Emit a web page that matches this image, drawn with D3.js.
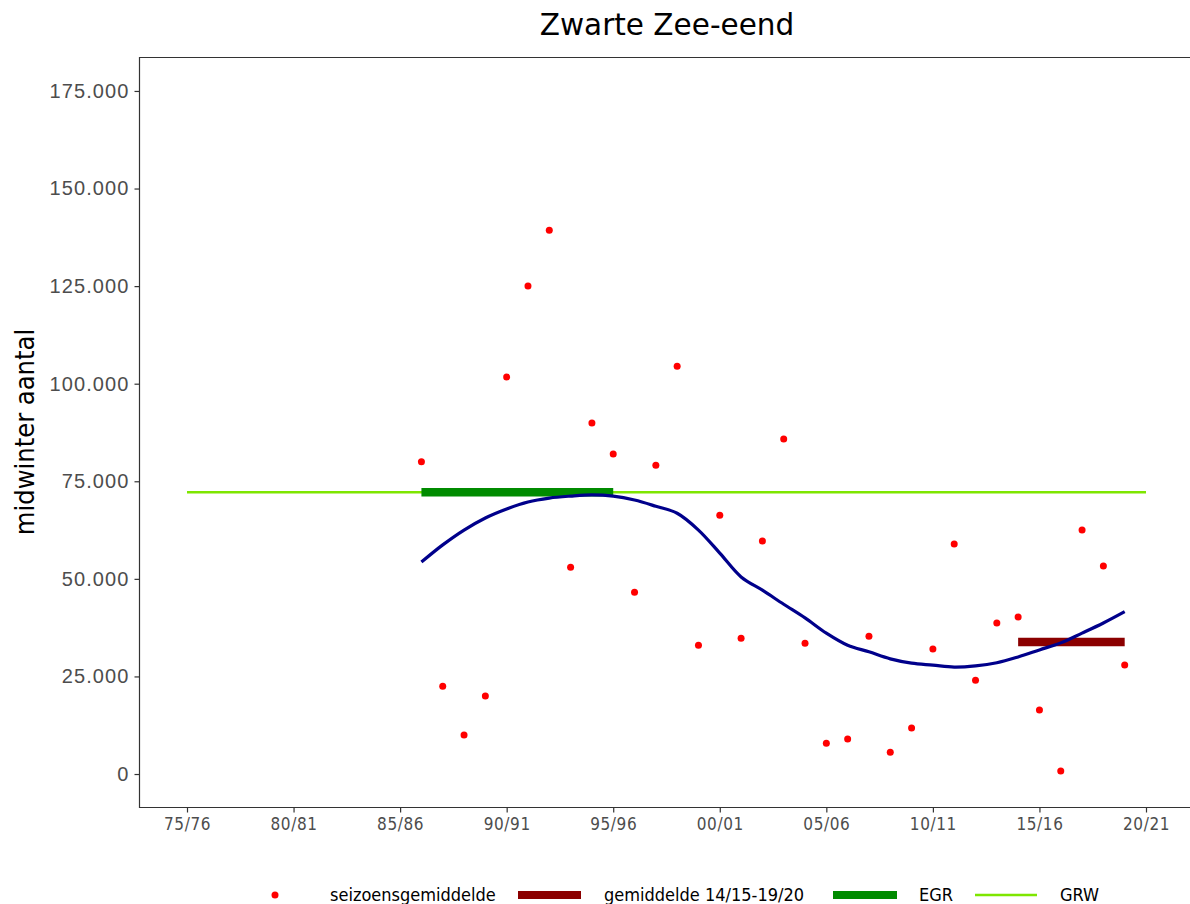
<!DOCTYPE html>
<html>
<head>
<meta charset="utf-8">
<script src="https://cdn.jsdelivr.net/npm/d3@7"></script>
<style>
  body { margin: 0; background: #fff; }
</style>
</head>
<body>
<div id="chart"></div>
<script>
// data: season start years + midwinter counts
var seasons = [1986, 1987, 1988, 1989, 1990, 1991, 1992, 1993, 1994, 1995, 1996, 1997, 1998, 1999, 2000, 2001, 2002,
  2003, 2004, 2005, 2006, 2007, 2008, 2009, 2010, 2011, 2012, 2013, 2014, 2015, 2016, 2017, 2018, 2019];
var counts = [80000, 22500, 10000, 20000, 101700, 125000, 139300, 53000, 89900, 82000, 46600, 79100, 104500, 33000,
  66300, 34800, 59700, 85800, 33500, 7900, 9000, 35300, 5600, 11800, 32000, 58900, 24000, 38700, 40200, 16400,
  800, 62500, 53300, 27900];
var trend = [54300, 58700, 62500, 65600, 67900, 69700, 70700, 71200, 71500, 71200, 70200, 68600, 66800, 62500,
  56600, 50500, 47100, 43500, 40000, 36100, 33000, 31300, 29500, 28400, 27900, 27400, 27700, 28500, 30000, 31800,
  33600, 36100, 38700, 41600];
var tickSeasons = [1975, 1980, 1985, 1990, 1995, 2000, 2005, 2010, 2015, 2020];
var yTicks = [0, 25000, 50000, 75000, 100000, 125000, 150000, 175000];
var grw = {from: 1975, to: 2020, value: 72200};
var egr = {from: 1986, to: 1995, value: 72200};
var recent = {from: 2014, to: 2019, value: 33800};

var W = 1190, H = 904;
var svg = d3.select("#chart").append("svg")
  .attr("width", W).attr("height", H);

var x = d3.scaleLinear().domain([1975, 2020]).range([187, 1146]);
var y = d3.scaleLinear().domain([-8450, 183700]).range([807, 57]);

var nl = d3.formatLocale({decimal: ",", thousands: ".", grouping: [3], currency: ["", ""]});
var fmt = nl.format(",d");
var seasonLabel = function(yr) {
  var a = yr % 100, b = (yr + 1) % 100;
  return d3.format("02d")(a) + "/" + d3.format("02d")(b);
};

// panel border (top, left, bottom; right runs off the page)
svg.append("path")
  .attr("d", "M" + (W + 5) + ",57.5 H139.5 V807.5 H" + (W + 5))
  .attr("fill", "none").attr("stroke", "#333").attr("stroke-width", 1.2);

// title
svg.append("text")
  .attr("x", 667).attr("y", 35)
  .attr("text-anchor", "middle")
  .attr("font-family", "DejaVu Sans")
  .attr("font-size", 29.5)
  .attr("fill", "#000")
  .text("Zwarte Zee-eend");

// y axis
var yAxis = svg.append("g")
  .attr("transform", "translate(139.5,0)")
  .call(d3.axisLeft(y).tickValues(yTicks).tickFormat(fmt).tickSize(5).tickPadding(5));
yAxis.select(".domain").remove();
yAxis.selectAll(".tick line").attr("stroke", "#333").attr("stroke-width", 1.2);
yAxis.selectAll(".tick text")
  .attr("fill", "#4d4d4d")
  .attr("font-family", "Liberation Sans, Arial")
  .attr("font-size", 20)
  .attr("letter-spacing", 1.1);

// x axis
var xAxis = svg.append("g")
  .attr("transform", "translate(0,807.5)")
  .call(d3.axisBottom(x).tickValues(tickSeasons).tickFormat(seasonLabel).tickSize(5).tickPadding(5));
xAxis.select(".domain").remove();
xAxis.selectAll(".tick line").attr("stroke", "#333").attr("stroke-width", 1.2);
xAxis.selectAll(".tick text")
  .attr("fill", "#4d4d4d")
  .attr("font-family", "DejaVu Sans Condensed, DejaVu Sans")
  .attr("font-size", 17)
  .attr("letter-spacing", 0.6);

// y title
svg.append("text")
  .attr("transform", "translate(34,432) rotate(-90)")
  .attr("text-anchor", "middle")
  .attr("font-family", "DejaVu Sans Condensed, DejaVu Sans")
  .attr("font-size", 27)
  .attr("fill", "#000")
  .text("midwinter aantal");

// GRW line
svg.append("line")
  .attr("x1", x(grw.from)).attr("x2", x(grw.to))
  .attr("y1", y(grw.value)).attr("y2", y(grw.value))
  .attr("stroke", "#7ee600").attr("stroke-width", 2.5);

// EGR bar
svg.append("line")
  .attr("x1", x(egr.from)).attr("x2", x(egr.to))
  .attr("y1", y(egr.value)).attr("y2", y(egr.value))
  .attr("stroke", "#008b00").attr("stroke-width", 8.5);

// recent average bar
svg.append("line")
  .attr("x1", x(recent.from)).attr("x2", x(recent.to))
  .attr("y1", y(recent.value)).attr("y2", y(recent.value))
  .attr("stroke", "#8b0000").attr("stroke-width", 8.5);

// points
svg.append("g")
  .selectAll("circle")
  .data(seasons)
  .enter()
  .append("circle")
    .attr("cx", function(d) { return x(d); })
    .attr("cy", function(d, i) { return y(counts[i]); })
    .attr("r", 3.5)
    .attr("fill", "#ff0000");

// trend
svg.append("path")
  .datum(seasons)
  .attr("fill", "none")
  .attr("stroke", "#00008b")
  .attr("stroke-width", 3.2)
  .attr("d", d3.line()
    .curve(d3.curveCatmullRom)
    .x(function(d) { return x(d); })
    .y(function(d, i) { return y(trend[i]); }));

// legend
var lg = svg.append("g").attr("font-family", "DejaVu Sans Condensed, DejaVu Sans")
  .attr("font-size", 18).attr("fill", "#000");
lg.append("circle").attr("cx", 275).attr("cy", 895).attr("r", 3.5).attr("fill", "#ff0000");
lg.append("text").attr("x", 330).attr("y", 901).text("seizoensgemiddelde");
lg.append("rect").attr("x", 518).attr("y", 891).attr("width", 63).attr("height", 8).attr("fill", "#8b0000");
lg.append("text").attr("x", 604).attr("y", 901).text("gemiddelde 14/15-19/20");
lg.append("rect").attr("x", 833).attr("y", 891).attr("width", 64).attr("height", 8).attr("fill", "#008b00");
lg.append("text").attr("x", 919).attr("y", 901).text("EGR");
lg.append("line").attr("x1", 975).attr("x2", 1037).attr("y1", 895).attr("y2", 895)
  .attr("stroke", "#7ee600").attr("stroke-width", 2.5);
lg.append("text").attr("x", 1060).attr("y", 901).text("GRW");
</script>
</body>
</html>
